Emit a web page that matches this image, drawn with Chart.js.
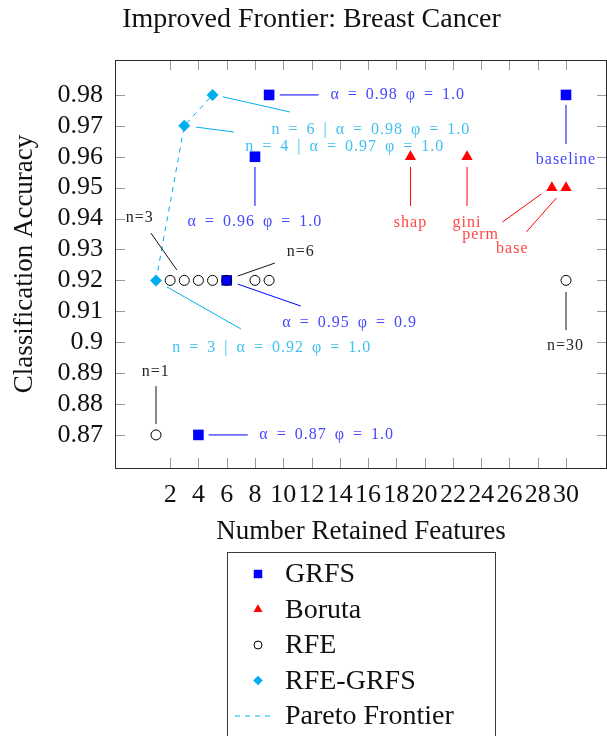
<!DOCTYPE html>
<html>
<head>
<meta charset="utf-8">
<script src="https://cdn.jsdelivr.net/npm/chart.js@4.4.1/dist/chart.umd.min.js"></script>
<style>
  html, body { margin: 0; padding: 0; background: #fff; }
</style>
</head>
<body>
<canvas id="myChart" width="607" height="736"></canvas>
<script>
// values
const grfsX = [9, 8, 6, 4, 30];
const grfsY = [0.98, 0.96, 0.92, 0.87, 0.98];
const borutaX = [19, 23, 29, 30];
const borutaY = [0.96, 0.96, 0.95, 0.95];
const rfeX = [1, 2, 3, 4, 5, 6, 8, 9, 30];
const rfeY = [0.87, 0.92, 0.92, 0.92, 0.92, 0.92, 0.92, 0.92, 0.92];
const rfeGrfsX = [1, 3, 5];
const rfeGrfsY = [0.92, 0.97, 0.98];
const paretoX = [1, 3, 5];
const paretoY = [0.92, 0.97, 0.98];
const xTicks = [2, 4, 6, 8, 10, 12, 14, 16, 18, 20, 22, 24, 26, 28, 30];
const yTicks = [0.87, 0.88, 0.89, 0.9, 0.91, 0.92, 0.93, 0.94, 0.95, 0.96, 0.97, 0.98];

// pin labels: text, label position and pin line, all in axis units
const notes = [
  { text: 'n=3', kind: 'k', at: [-0.15, 0.9402], from: [0.64, 0.9353], to: [2.47, 0.9234] },
  { text: 'n=6', kind: 'k', at: [11.24, 0.9292], from: [6.78, 0.9214], to: [9.4, 0.9256] },
  { text: 'n=1', kind: 'k', at: [0.99, 0.8904], from: [1, 0.8858], to: [1, 0.8735] },
  { text: 'n=30', kind: 'k', at: [29.96, 0.8988], from: [30, 0.9162], to: [30, 0.9039] },
  { text: 'α = 0.95 φ = 0.9', kind: 'b', at: [14.7, 0.9062], from: [6.78, 0.9188], to: [11.24, 0.9117] },
  { text: 'α = 0.87 φ = 1.0', kind: 'b', at: [13.07, 0.87], from: [4.73, 0.87], to: [7.49, 0.87] },
  { text: 'α = 0.98 φ = 1.0', kind: 'b', at: [18.1, 0.98], from: [9.75, 0.98], to: [12.5, 0.98] },
  { text: 'α = 0.96 φ = 1.0', kind: 'b', at: [7.99, 0.9389], from: [8, 0.9567], to: [8, 0.9441] },
  { text: 'baseline', kind: 'b', at: [30, 0.959], from: [30, 0.9768], to: [30, 0.9641] },
  { text: 'n = 3 | α = 0.92 φ = 1.0', kind: 'c', at: [9.19, 0.8981], from: [1.77, 0.9179], to: [7.0, 0.9043] },
  { text: 'n = 6 | α = 0.98 φ = 1.0', kind: 'c', at: [16.2, 0.9687], from: [5.72, 0.9794], to: [10.46, 0.9745] },
  { text: 'n = 4 | α = 0.97 φ = 1.0', kind: 'c', at: [14.35, 0.9632], from: [3.82, 0.9696], to: [6.5, 0.968] },
  { text: 'shap', kind: 'r', at: [19, 0.9386], from: [19, 0.9567], to: [19, 0.9441] },
  { text: 'gini', kind: 'r', at: [23, 0.9386], from: [23, 0.9567], to: [23, 0.9441] },
  { text: 'perm', kind: 'r', at: [23.96, 0.9347], from: [28.27, 0.948], to: [25.51, 0.9389] },
  { text: 'base', kind: 'r', at: [26.2, 0.9302], from: [29.33, 0.9467], to: [27.2, 0.9357] }
];

const serif = "'Liberation Serif', 'Times New Roman', serif";
const pinColors = {
  k: { line: '#111111', text: '#262626' },
  b: { line: '#0000ff', text: '#4646ff' },
  c: { line: '#00aeef', text: '#3fc0f2' },
  r: { line: '#ff0000', text: '#ff4646' }
};

const pts = (xs, ys) => xs.map((x, i) => ({ x: x, y: ys[i] }));

// title sits a little right of the canvas centre in the original
const titleNudge = {
  id: 'titleNudge',
  afterLayout(chart) {
    const t = chart.titleBlock;
    if (t) { t.left += 8; t.right += 8; }
  }
};

// frame with inward ticks on all four sides
const framePlugin = {
  id: 'frame',
  beforeDatasetsDraw(chart) {
    const { ctx, chartArea: a, scales } = chart;
    ctx.save();
    ctx.strokeStyle = '#9a9a9a';
    ctx.lineWidth = 1;
    ctx.beginPath();
    xTicks.forEach(v => {
      const px = Math.round(scales.x.getPixelForValue(v)) + 0.5;
      ctx.moveTo(px, a.bottom); ctx.lineTo(px, a.bottom - 10);
      ctx.moveTo(px, a.top); ctx.lineTo(px, a.top + 10);
    });
    yTicks.forEach(v => {
      const py = Math.round(scales.y.getPixelForValue(v)) + 0.5;
      ctx.moveTo(a.left, py); ctx.lineTo(a.left + 10, py);
      ctx.moveTo(a.right, py); ctx.lineTo(a.right - 10, py);
    });
    ctx.stroke();
    ctx.strokeStyle = '#2a2a2a';
    ctx.strokeRect(Math.round(a.left) + 0.5, Math.round(a.top) + 0.5,
      Math.round(a.right - a.left) - 1, Math.round(a.bottom - a.top));
    ctx.restore();
  }
};

const notesPlugin = {
  id: 'notes',
  afterDatasetsDraw(chart) {
    const { ctx, scales } = chart;
    const X = v => scales.x.getPixelForValue(v);
    const Y = v => scales.y.getPixelForValue(v);
    ctx.save();
    ctx.lineWidth = 1;
    ctx.font = '16px ' + serif;
    ctx.textAlign = 'center';
    ctx.textBaseline = 'middle';
    if ('letterSpacing' in ctx) { ctx.letterSpacing = '1px'; }
    if ('wordSpacing' in ctx) { ctx.wordSpacing = '3px'; }
    notes.forEach(n => {
      const c = pinColors[n.kind];
      ctx.strokeStyle = c.line;
      ctx.beginPath();
      ctx.moveTo(X(n.from[0]), Y(n.from[1]));
      ctx.lineTo(X(n.to[0]), Y(n.to[1]));
      ctx.stroke();
      ctx.fillStyle = c.text;
      ctx.fillText(n.text, X(n.at[0]), Y(n.at[1]));
    });
    ctx.restore();
  }
};

// boxed legend under the x axis title
const boxLegend = {
  id: 'boxLegend',
  afterDraw(chart) {
    const { ctx, chartArea: a } = chart;
    const cx = (a.left + a.right) / 2;
    const left = cx - 134, right = cx + 134, top = a.bottom + 84;
    ctx.save();
    ctx.strokeStyle = '#3a3a3a';
    ctx.lineWidth = 1;
    ctx.strokeRect(Math.round(left) + 0.5, Math.round(top) + 0.5, right - left, 200);
    ctx.font = '28px ' + serif;
    ctx.textAlign = 'left';
    ctx.textBaseline = 'middle';
    chart.data.datasets.forEach((ds, i) => {
      const y = top + 22 + i * 35.5;
      const mx = left + 31;
      if (ds.pointRadius > 0) {
        ctx.fillStyle = ds.backgroundColor;
        ctx.strokeStyle = ds.borderColor;
        ctx.lineWidth = ds.borderWidth || 0;
        Chart.helpers.drawPoint(ctx, {
          pointStyle: ds.pointStyle, radius: ds.pointRadius * 0.8,
          borderWidth: ds.borderWidth || 0, rotation: 0
        }, mx, y);
      } else {
        ctx.strokeStyle = ds.borderColor;
        ctx.lineWidth = 1;
        ctx.setLineDash(ds.borderDash || []);
        ctx.beginPath();
        ctx.moveTo(mx - 23, y); ctx.lineTo(mx + 16, y);
        ctx.stroke();
        ctx.setLineDash([]);
      }
      ctx.fillStyle = '#111';
      ctx.fillText(ds.label, left + 58, y + 1);
    });
    ctx.restore();
  }
};

const ctx = document.getElementById('myChart');
const myChart = new Chart(ctx, {
  type: 'scatter',
  data: {
    datasets: [
      { label: 'GRFS', data: pts(grfsX, grfsY), pointStyle: 'rect', pointRadius: 7.5,
        backgroundColor: '#0000ff', borderColor: '#0000ff', borderWidth: 0, order: 5 },
      { label: 'Boruta', data: pts(borutaX, borutaY), pointStyle: 'triangle', pointRadius: 6.5,
        backgroundColor: '#ff0000', borderColor: '#ff0000', borderWidth: 0, order: 4 },
      { label: 'RFE', data: pts(rfeX, rfeY), pointStyle: 'circle', pointRadius: 5,
        backgroundColor: 'rgba(255,255,255,0)', borderColor: '#000000', borderWidth: 1, order: 3 },
      { label: 'RFE-GRFS', data: pts(rfeGrfsX, rfeGrfsY), pointStyle: 'rectRot', pointRadius: 6,
        backgroundColor: '#00aeef', borderColor: '#00aeef', borderWidth: 0, order: 2 },
      { type: 'line', label: 'Pareto Frontier', data: pts(paretoX, paretoY), showLine: true,
        borderColor: '#00aeef', borderWidth: 1, borderDash: [5, 5], pointRadius: 0,
        fill: false, tension: 0, order: 1 }
    ]
  },
  options: {
    responsive: false,
    animation: false,
    layout: { autoPadding: false, padding: { left: 0, right: 0, top: 0, bottom: 188 } },
    plugins: {
      legend: { display: false },
      tooltip: { enabled: false },
      title: {
        display: true,
        text: 'Improved Frontier: Breast Cancer',
        color: '#111',
        font: { family: serif, size: 28, weight: 'normal' },
        padding: { top: 3, bottom: 23.4 }
      }
    },
    scales: {
      x: {
        type: 'linear',
        min: -1.9,
        max: 32.9,
        afterBuildTicks: s => { s.ticks = xTicks.map(v => ({ value: v })); },
        afterFit: s => { s.height = 80; s.paddingLeft = 0; s.paddingRight = 0; },
        grid: { display: false, drawTicks: false },
        border: { display: false },
        ticks: {
          autoSkip: false, maxRotation: 0, minRotation: 0, padding: 12,
          color: '#111', font: { family: serif, size: 26 },
          callback: v => String(v)
        },
        title: {
          display: true, text: 'Number Retained Features', color: '#111',
          font: { family: serif, size: 27 }, padding: { top: 0, bottom: 0 }
        }
      },
      y: {
        type: 'linear',
        min: 0.8593,
        max: 0.9913,
        afterBuildTicks: s => { s.ticks = yTicks.map(v => ({ value: v })); },
        afterFit: s => { s.width = 115; s.paddingTop = 0; s.paddingBottom = 0; },
        grid: { display: false, drawTicks: false },
        border: { display: false },
        ticks: {
          autoSkip: false, padding: 12, color: '#111',
          font: { family: serif, size: 26 },
          callback: v => String(Number(v.toFixed(2)))
        },
        title: {
          display: true, text: 'Classification Accuracy', color: '#111',
          font: { family: serif, size: 27 }, padding: { top: 9, bottom: 0 }
        }
      }
    }
  },
  plugins: [titleNudge, framePlugin, notesPlugin, boxLegend]
});
</script>
</body>
</html>
